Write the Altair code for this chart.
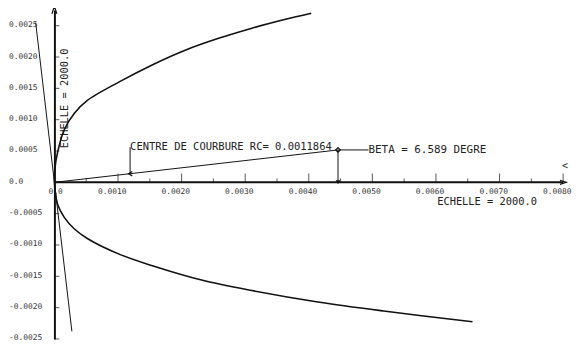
import altair as alt
import pandas as pd

# ---- data (data units) ----
upper_x = [0.0, 0.000005, 0.00005, 0.000155, 0.000311, 0.000513, 0.001041, 0.001553, 0.002066, 0.002594, 0.003107, 0.003619, 0.004039]
upper_y = [0.0, 0.00020, 0.00048, 0.00084, 0.00110, 0.001304, 0.001615, 0.001882, 0.002113, 0.002303, 0.002461, 0.002599, 0.002700]
lower_x = [0.0, 0.00001, 0.000051, 0.000155, 0.000311, 0.000517, 0.001036, 0.001553, 0.002330, 0.003107, 0.004143, 0.005177, 0.006575]
lower_y = [0.0, -0.00012, -0.000353, -0.000559, -0.000741, -0.000896, -0.001154, -0.001335, -0.001564, -0.001728, -0.001910, -0.002054, -0.002225]

tilt_x = [-0.000295, 0.000275]
tilt_y = [0.00255, -0.00238]

centre_x, centre_y = 0.00119, 0.000138
centre_leader_top = 0.00056
beta_x, beta_y = 0.00446, 0.000517
beta_label_x = 0.00494

x_ticks = [0.0, 0.001, 0.002, 0.003, 0.004, 0.005, 0.006, 0.007, 0.008]
x_minor = [0.0005, 0.0015, 0.0025, 0.0035, 0.0045, 0.0055, 0.0065, 0.0075]
y_ticks = [-0.0025, -0.002, -0.0015, -0.001, -0.0005, 0.0, 0.0005, 0.001, 0.0015, 0.002, 0.0025]

centre_text = "CENTRE DE COURBURE RC= 0.0011864"
beta_text = "BETA = 6.589  DEGRE"
scale_title = "ECHELLE = 2000.0"

# ---- layout ----
W, H = 562, 333
xmin, xmax = -0.00073, 0.008
ymin, ymax = -0.0025, 0.00275
zero_px = W * (0 - xmin) / (xmax - xmin)
zero_py = H * (ymax - 0) / (ymax - ymin)

FONT = "DejaVu Sans Mono"
INK = "#111111"

xscale = alt.Scale(domain=[xmin, xmax], nice=False, zero=False)
yscale = alt.Scale(domain=[ymin, ymax], nice=False, zero=False)

x_axis = alt.Axis(
    orient="bottom", offset=zero_py - H, domain=False, ticks=False, tickSize=0,
    grid=False, values=x_ticks,
    labelExpr="datum.value == 0 ? '0.0' : format(datum.value, '.4f')",
    labelFont=FONT, labelFontSize=8, labelColor="#333333",
    labelAlign="right", labelOffset=8, labelBaseline="top", labelPadding=5,
    labelFlush=False, labelOverlap=False, labelBound=False,
    title=scale_title, titleFont=FONT, titleFontSize=10.5, titleFontWeight="normal",
    titleColor="#222222", titleX=434, titleY=19, titleAlign="left",
    titleBaseline="middle", titleAngle=0,
)
y_axis = alt.Axis(
    orient="left", offset=-zero_px, domain=True, domainColor=INK, domainWidth=2,
    ticks=False, tickSize=0, grid=False, values=y_ticks,
    labelExpr="datum.value == 0 ? '0.0' : replace(format(datum.value, '.4f'), '\u2212', '-')",
    labelFont=FONT, labelFontSize=8, labelColor="#333333",
    labelAlign="left", labelPadding=zero_px - 0.5, labelBaseline="middle", labelOffset=-1,
    labelFlush=False, labelOverlap=False, labelBound=False,
    title=scale_title, titleFont=FONT, titleFontSize=10.5, titleFontWeight="normal",
    titleColor="#222222", titleX=10, titleY=89, titleAngle=270,
    titleAlign="center", titleBaseline="middle",
)


def X(field="x"):
    return alt.X(f"{field}:Q", scale=xscale, axis=x_axis)


def Y(field="y"):
    return alt.Y(f"{field}:Q", scale=yscale, axis=y_axis)


# ---- tables ----
rows = []
for i, (a, b) in enumerate(zip(upper_x, upper_y)):
    rows.append({"series": "upper", "i": i, "x": a, "y": b})
for i, (a, b) in enumerate(zip(lower_x, lower_y)):
    rows.append({"series": "lower", "i": i, "x": a, "y": b})
curves = pd.DataFrame(rows)

segments = pd.DataFrame([
    {"x": 0.0, "y": 0.0, "x2": x_ticks[-1], "y2": 0.0, "w": 2.0},
    {"x": tilt_x[0], "y": tilt_y[0], "x2": tilt_x[1], "y2": tilt_y[1], "w": 1.0},
    {"x": 0.0, "y": 0.0, "x2": beta_x, "y2": beta_y, "w": 1.0},
    {"x": beta_x, "y": beta_y, "x2": beta_x, "y2": 0.0, "w": 1.0},
    {"x": beta_x, "y": beta_y, "x2": beta_label_x, "y2": beta_y, "w": 1.0},
    {"x": centre_x, "y": centre_y, "x2": centre_x, "y2": centre_leader_top, "w": 1.0},
])

major = pd.DataFrame({"x": x_ticks[1:], "y": [0.0] * (len(x_ticks) - 1)})
minor = pd.DataFrame({"x": x_minor, "y": [0.0] * len(x_minor)})
yt = pd.DataFrame({"x": [0.0] * len(y_ticks), "y": y_ticks})

open_marks = pd.DataFrame([
    {"x": 0.0, "y": ymax, "shape": "M-0.6,0.9L0,-0.9L0.6,0.9", "size": 70},
    {"x": x_ticks[-1], "y": 0.0, "shape": "M-0.9,-0.6L0.9,0L-0.9,0.6", "size": 50},
    {"x": centre_x, "y": centre_y, "shape": "M0.7,-0.7L-0.5,0L0.7,0.7", "size": 40},
    {"x": beta_x, "y": beta_y, "shape": "diamond", "size": 22},
])
filled_marks = pd.DataFrame([
    {"x": beta_x, "y": 0.0, "shape": "triangle-down", "size": 22},
])

labels = pd.DataFrame([
    {"x": centre_x, "y": centre_leader_top, "text": centre_text, "dx": 0, "dy": -4, "fs": 10.6},
    {"x": beta_label_x, "y": beta_y, "text": beta_text, "dx": 1, "dy": -1, "fs": 11},
])
glyph = pd.DataFrame([{"x": x_ticks[-1], "y": 0.0, "text": "<"}])

# ---- layers ----
curve_layer = alt.Chart(curves).mark_line(
    color=INK, strokeWidth=1.6, interpolate="catmull-rom"
).encode(x=X(), y=Y(), detail="series:N", order="i:Q")

seg_layer = alt.Chart(segments).mark_rule(color=INK).encode(
    x=X(), y=Y(), x2="x2:Q", y2="y2:Q",
    strokeWidth=alt.StrokeWidth("w:Q", scale=None),
)

major_layer = alt.Chart(major).mark_tick(
    orient="vertical", size=9, thickness=1, yOffset=-4.5, color=INK
).encode(x=X(), y=Y())
minor_layer = alt.Chart(minor).mark_tick(
    orient="vertical", size=4, thickness=1, yOffset=-2, color=INK
).encode(x=X(), y=Y())
ytick_layer = alt.Chart(yt).mark_tick(
    orient="horizontal", size=5, thickness=1, xOffset=2.5, color=INK
).encode(x=X(), y=Y())

open_layer = alt.Chart(open_marks).mark_point(
    filled=False, color=INK, strokeWidth=1.2, opacity=1
).encode(
    x=X(), y=Y(),
    shape=alt.Shape("shape:N", scale=None),
    size=alt.Size("size:Q", scale=None),
)
filled_layer = alt.Chart(filled_marks).mark_point(
    filled=True, color=INK, opacity=1
).encode(
    x=X(), y=Y(),
    shape=alt.Shape("shape:N", scale=None),
    size=alt.Size("size:Q", scale=None),
)

text_layer = alt.Chart(labels).mark_text(
    align="left", baseline="middle", font=FONT, color="#222222"
).encode(
    x=X(), y=Y(), text="text:N",
    size=alt.Size("fs:Q", scale=None),
    xOffset=alt.XOffset("dx:Q", scale=None),
    yOffset=alt.YOffset("dy:Q", scale=None),
)
glyph_layer = alt.Chart(glyph).mark_text(
    align="center", baseline="middle", font=FONT, fontSize=10, color="#222222",
    dx=2, dy=-17,
).encode(x=X(), y=Y(), text="text:N")

chart = alt.layer(
    seg_layer, curve_layer, major_layer, minor_layer, ytick_layer,
    open_layer, filled_layer, text_layer, glyph_layer,
).properties(
    width=W, height=H,
    autosize=alt.AutoSizeParams(type="none"),
    padding={"left": 0, "top": 0, "right": 9, "bottom": 0},
    background="white",
).configure_view(stroke=None)

chart.save("out.html", embed_options={"renderer": "svg", "actions": False})
